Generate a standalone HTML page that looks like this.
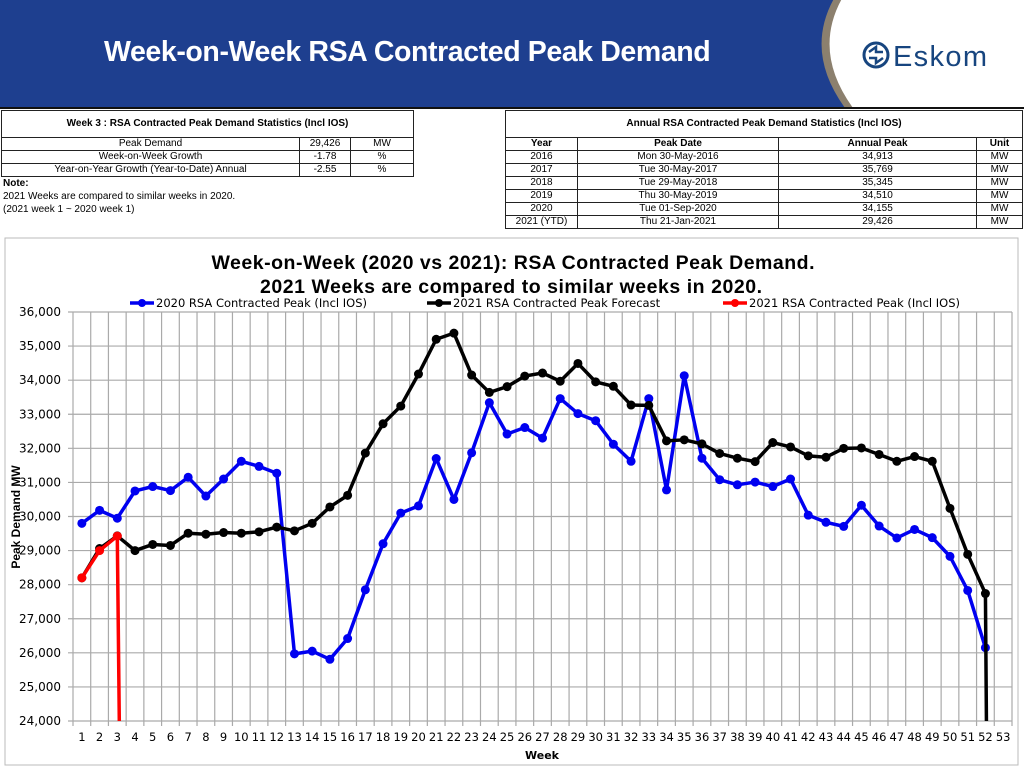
<!DOCTYPE html>
<html><head><meta charset="utf-8"><style>
body{margin:0;width:1024px;height:768px;overflow:hidden;background:#fff;font-family:"Liberation Sans",sans-serif;position:relative}
.hdr{position:absolute;left:0;top:0;width:1024px;height:107px;background:#1e3f8f;border-bottom:2px solid #111;overflow:hidden}
.hdr h1{position:absolute;left:104px;top:36px;margin:0;color:#fff;font-size:28.5px;font-weight:bold;letter-spacing:-0.4px}
table{position:absolute;border-collapse:collapse;font-size:10px;text-align:center}
td{border:1px solid #222;padding:0;height:12px;line-height:12px}
.cap{font-weight:bold;height:26px}
.note{position:absolute;left:3px;top:177px;font-size:10px;line-height:13px}
</style></head><body>
<div class="hdr">
<h1>Week-on-Week RSA Contracted Peak Demand</h1>
<svg width="1024" height="107" style="position:absolute;left:0;top:0">
<path d="M836 -5 Q802 52 848 112 L1030 112 L1030 -5 Z" fill="#8c806e"/>
<path d="M844 -5 Q810 52 856 112 L1030 112 L1030 -5 Z" fill="#fff"/>
<g>
<circle cx="876" cy="55" r="12" fill="none" stroke="#17457f" stroke-width="3"/>
<path d="M869 52 L876 47 L876 52 L883 52 M869 58 L876 58 L876 63 L883 58" fill="none" stroke="#17457f" stroke-width="2.5"/>
<text x="893" y="66" font-size="29" fill="#17457f" font-family="Liberation Sans" textLength="94">Eskom</text></g>
</svg></div>

<table style="left:1px;top:110px;width:413px">
<tr><td colspan="3" class="cap">Week 3 : RSA Contracted Peak Demand Statistics (Incl IOS)</td></tr>
<tr><td style="width:297px">Peak Demand</td><td style="width:50px">29,426</td><td>MW</td></tr>
<tr><td>Week-on-Week Growth</td><td>-1.78</td><td>%</td></tr>
<tr><td>Year-on-Year Growth (Year-to-Date) Annual</td><td>-2.55</td><td>%</td></tr>
</table>
<div class="note"><b>Note:</b><br>2021 Weeks are compared to similar weeks in 2020.<br>(2021 week 1 ~ 2020 week 1)</div>
<table style="left:505px;top:110px;width:518px">
<tr><td colspan="4" class="cap">Annual RSA Contracted Peak Demand Statistics (Incl IOS)</td></tr>
<tr style="font-weight:bold"><td style="width:71px">Year</td><td style="width:200px">Peak Date</td><td style="width:197px">Annual Peak</td><td>Unit</td></tr>
<tr><td>2016</td><td>Mon 30-May-2016</td><td>34,913</td><td>MW</td></tr>
<tr><td>2017</td><td>Tue 30-May-2017</td><td>35,769</td><td>MW</td></tr>
<tr><td>2018</td><td>Tue 29-May-2018</td><td>35,345</td><td>MW</td></tr>
<tr><td>2019</td><td>Thu 30-May-2019</td><td>34,510</td><td>MW</td></tr>
<tr><td>2020</td><td>Tue 01-Sep-2020</td><td>34,155</td><td>MW</td></tr>
<tr><td>2021 (YTD)</td><td>Thu 21-Jan-2021</td><td>29,426</td><td>MW</td></tr>
</table>

<svg id="chart" width="1024" height="768" style="position:absolute;left:0;top:0">
<rect x="5" y="238" width="1013" height="527" fill="none" stroke="#bbb"/>
<text x="513" y="269" text-anchor="middle" font-size="19.5" font-weight="bold" font-family="Liberation Sans, sans-serif" textLength="603">Week-on-Week (2020 vs 2021): RSA Contracted Peak Demand.</text>
<text x="511" y="293" text-anchor="middle" font-size="19.5" font-weight="bold" font-family="Liberation Sans, sans-serif" textLength="502">2021 Weeks are compared to similar weeks in 2020.</text>
<g id="grid"></g><g id="axes"></g><g id="series"></g><g id="legend"></g>
<text x="20" y="517" transform="rotate(-90 20 517)" text-anchor="middle" font-size="12" font-weight="bold" font-family="Liberation Sans Narrow, Liberation Sans, sans-serif">Peak Demand MW</text>
<text x="542" y="759" text-anchor="middle" font-size="11" font-weight="bold" font-family="DejaVu Sans, sans-serif">Week</text>
</svg>
<script>
const weeks=[];for(let i=1;i<=53;i++)weeks.push(i);
const yTicks=[24000,25000,26000,27000,28000,29000,30000,31000,32000,33000,34000,35000,36000];
const s2020=[29800,30180,29950,30750,30880,30760,31150,30600,31100,31620,31470,31270,25970,26050,25810,26420,27850,29200,30100,30310,31700,30500,31870,33340,32420,32610,32300,33460,33020,32810,32120,31620,33460,30780,34130,31710,31080,30930,31010,30880,31100,30040,29830,29710,30330,29720,29370,29620,29380,28830,27830,26150];
const s2021f=[28200,29060,29430,29000,29180,29150,29510,29480,29530,29510,29550,29690,29580,29800,30280,30620,31860,32720,33240,34180,35200,35380,34150,33640,33810,34120,34210,33970,34490,33950,33820,33270,33260,32220,32250,32130,31850,31710,31610,32170,32040,31780,31740,32000,32010,31820,31620,31760,31620,30240,28890,27740];
const s2021=[28200,29000,29426];
const L=73,R=1012,T=312,B=721,ymin=24000,ymax=36000;
const bw=(R-L)/weeks.length;
const X=w=>L+(w-0.5)*bw;
const Y=v=>B-(v-ymin)/(ymax-ymin)*(B-T);
const NS='http://www.w3.org/2000/svg';
function mk(t,a,p){const e=document.createElementNS(NS,t);for(const k in a)e.setAttribute(k,a[k]);p.appendChild(e);return e;}
const g=document.getElementById('grid'),ax=document.getElementById('axes'),se=document.getElementById('series'),lg=document.getElementById('legend');
yTicks.forEach(v=>{const l=mk('line',{x1:L-5,x2:R,y1:Y(v),y2:Y(v),stroke:'#aaa','stroke-width':1.2},g);


const t=mk('text',{x:L-12,y:Y(v)+4,'text-anchor':'end','font-size':12,'font-family':'DejaVu Sans, sans-serif'},ax);t.textContent=v.toLocaleString('en-US');

});
for(let i=0;i<=weeks.length;i++){const x=L+i*bw;const l=mk('line',{x1:x,x2:x,y1:T,y2:B+5,stroke:'#aaa','stroke-width':1.2},g);

}
weeks.forEach(w=>{const t=mk('text',{x:X(w),y:741,'text-anchor':'middle','font-size':11.5,'font-family':'DejaVu Sans, sans-serif'},ax);t.textContent=w;

});
function series(arr,col,name,drop){let d=arr.map((v,i)=>(i?'L':'M')+X(i+1)+' '+Y(v)).join(' ');
if(drop)d+=' L'+(X(arr.length)+drop)+' '+B;
const p=mk('path',{d:d,fill:'none',stroke:col,'stroke-width':3.5,'stroke-linejoin':'round'},se);


arr.forEach((v,i)=>{const c=mk('circle',{cx:X(i+1),cy:Y(v),r:4.5,fill:col},se);

});}
series(s2020,'#0000f0','series-2020',0);
series(s2021f,'#000','series-2021-forecast',1);
series(s2021,'#f00','series-2021-actual',2);
const items=[['#0000f0','2020 RSA Contracted Peak (Incl IOS)',130,'legend-2020'],['#000','2021 RSA Contracted Peak Forecast',427,'legend-2021-forecast'],['#f00','2021 RSA Contracted Peak (Incl IOS)',723,'legend-2021-actual']];
items.forEach(([c,txt,x,n])=>{const gg=mk('g',{},lg);


mk('line',{x1:x,x2:x+24,y1:303,y2:303,stroke:c,'stroke-width':3.5},gg);mk('circle',{cx:x+12,cy:303,r:4,fill:c},gg);
const t=mk('text',{x:x+26,y:307,'font-size':11.5,'font-family':'DejaVu Sans, sans-serif'},gg);t.textContent=txt;});
</script>
</body></html>
